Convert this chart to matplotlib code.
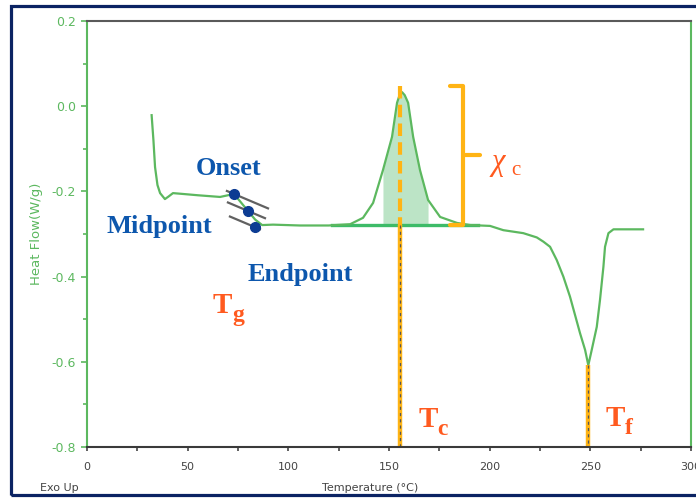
import matplotlib
matplotlib.use('Agg')
import matplotlib.pyplot as plt
from matplotlib.patches import Rectangle
import numpy as np

plt.rcParams['axes.unicode_minus'] = False

# DSC curve (temperature in C, heat flow in W/g)
temp = [32.1, 33.0, 33.8, 35.0, 36.3, 38.7, 40.5, 42.7, 47.7, 55.0, 66.1, 73.0,
        76.5, 80.0, 83.5, 87.0, 92.4, 105.8, 120.0, 130.7, 137.1, 142.1, 147.0,
        151.5, 154.0, 155.3, 156.5, 157.8, 159.5, 162.0, 165.4, 169.4, 175.4,
        183.8, 190.3, 200.2, 206.8, 216.7, 223.4, 226.7, 230.0, 233.3, 236.6,
        239.9, 242.4, 244.9, 247.4, 249.0, 250.7, 253.2, 254.8, 256.5, 257.3,
        259.0, 261.5, 276.2]
heat = [-0.021, -0.080, -0.143, -0.185, -0.204, -0.218, -0.212, -0.204, -0.206,
        -0.209, -0.213, -0.206, -0.226, -0.246, -0.266, -0.279, -0.278, -0.280,
        -0.280, -0.277, -0.262, -0.227, -0.150, -0.072, 0.008, 0.027, 0.033,
        0.026, 0.008, -0.072, -0.150, -0.220, -0.260, -0.274, -0.279, -0.281,
        -0.291, -0.298, -0.308, -0.318, -0.330, -0.361, -0.400, -0.447, -0.490,
        -0.533, -0.572, -0.608, -0.572, -0.518, -0.455, -0.377, -0.330, -0.298,
        -0.289, -0.289]

# Tg points: onset, midpoint, endpoint, and their tangent lines
tg_x = [73.0, 80.0, 83.5]
tg_y = [-0.206, -0.246, -0.284]
tan_x0 = [69.5, 70.0, 71.0]
tan_x1 = [89.9, 88.4, 85.9]

baseline_y = -0.280
baseline_x = [121.7, 194.2]
tc = 155.5
tc_top = 0.047
tf = 249.0
tf_top = -0.608

green = '#5cb85f'
orange = '#ffb414'
red = '#ff5a1f'
blue = '#0d57ad'

fig = plt.figure(figsize=(6.96, 4.98), dpi=100)
ax = fig.add_axes([0.125, 0.1024, 0.8678, 0.8554])
ax.set_xlim(0, 300)
ax.set_ylim(-0.8, 0.2)

# frame around the slide
fig.patches.append(Rectangle((0.0165, 0.007), 1.1, 0.98, transform=fig.transFigure,
                             fill=False, ec='#0b2363', lw=2.3))

# fill under crystallisation peak
t = np.array(temp)
h = np.array(heat)
m = (t >= 144) & (t <= 169.4)
ax.fill_between(t[m], h[m], baseline_y, color='#a6dcb4', alpha=0.75, lw=0)

ax.plot(baseline_x, [baseline_y, baseline_y], color='#3dbb68', lw=2.4)
ax.plot(temp, heat, color=green, lw=1.6)

# tangent lines and points for Tg
for x0, y0, xa, xb in zip(tg_x, tg_y, tan_x0, tan_x1):
    xs = np.array([xa, xb])
    ax.plot(xs, y0 - 0.002 * (xs - x0), color='#454545', lw=1.6, alpha=0.85)
ax.plot(tg_x, tg_y, 'o', color='#0c3c93', ms=7)

# vertical markers Tc and Tf
ax.plot([tc, tc], [tc_top, baseline_y], color=orange, lw=3, ls=(0, (3, 1.5)))
for xv, ytop in [(tc, baseline_y), (tf, tf_top)]:
    ax.plot([xv, xv], [ytop, -0.8], color=orange, lw=3.2, solid_capstyle='butt')
    ax.plot([xv, xv], [ytop, -0.8], color='#555555', lw=0.9, ls=(0, (2.5, 2.5)))

# bracket for chi_c
bx = [180.3, 186.9, 186.9, 180.3]
by = [0.047, 0.047, -0.279, -0.279]
ax.plot(bx, by, color=orange, lw=3, solid_joinstyle='round', solid_capstyle='round')
ax.plot([186.9, 195.2], [-0.115, -0.115], color=orange, lw=3, solid_capstyle='round')
ax.text(201.0, -0.150, 'χ', color=red, fontsize=22, family='Liberation Serif',
        style='italic', ha='left', va='baseline')
ax.text(210.5, -0.161, 'c', color=red, fontsize=15, family='Liberation Serif',
        ha='left', va='baseline')

# text labels
ax.text(70.5, -0.146, 'Onset', color=blue, fontsize=19, family='Liberation Serif',
        weight='bold', ha='center', va='center')
ax.text(36.0, -0.283, 'Midpoint', color=blue, fontsize=19, family='Liberation Serif',
        weight='bold', ha='center', va='center')
ax.text(105.8, -0.395, 'Endpoint', color=blue, fontsize=19, family='Liberation Serif',
        weight='bold', ha='center', va='center')


def tlabel(x, y, sub):
    ax.text(x, y, 'T', color=red, fontsize=21, family='Liberation Serif',
            weight='bold', ha='left', va='baseline')
    ax.annotate(sub, (x, y), xytext=(14, -6), textcoords='offset points',
                color=red, fontsize=17, family='Liberation Serif', weight='bold',
                ha='left', va='baseline')


tlabel(62.6, -0.485, 'g')
tlabel(164.5, -0.753, 'c')
tlabel(257.5, -0.750, 'f')

# axes styling
ax.spines['left'].set_color(green)
ax.spines['right'].set_color(green)
ax.spines['top'].set_color('#5a5a5a')
ax.spines['bottom'].set_color('#3a3a3a')
for s in ax.spines.values():
    s.set_linewidth(1.5)

ax.set_yticks(np.arange(-0.8, 0.21, 0.2))
ax.set_yticks(np.arange(-0.8, 0.21, 0.1), minor=True)
ax.set_xticks(np.arange(0, 301, 50))
ax.set_xticks(np.arange(0, 301, 25), minor=True)
ax.yaxis.set_major_formatter(plt.FuncFormatter(lambda v, p: '%.1f' % (0.0 if abs(v) < 1e-9 else v)))
ax.tick_params(axis='y', which='both', colors=green, labelsize=9, length=4, width=1.2, pad=4)
ax.tick_params(axis='y', which='minor', length=3)
ax.tick_params(axis='x', which='both', colors='#444444', labelsize=8, length=3, width=1.2, pad=8)

ax.set_ylabel('Heat Flow(W/g)', color=green, fontsize=9.5, labelpad=6)
fig.text(0.532, 0.02, 'Temperature (°C)', color='#444444', fontsize=8, ha='center', va='center')
fig.text(0.057, 0.02, 'Exo Up', color='#444444', fontsize=8, ha='left', va='center')

fig.savefig('out.png', dpi=100, facecolor='white')
